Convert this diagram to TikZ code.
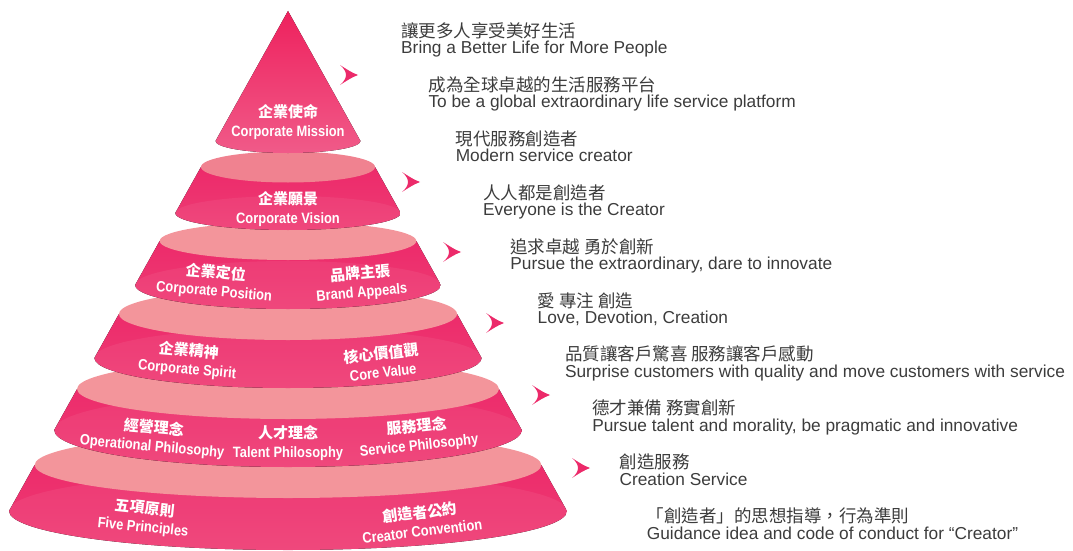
\documentclass[tikz,border=0pt]{standalone}
\usepackage{fontspec}
\setmainfont{Liberation Sans}
\newfontfamily\cjk{Noto Sans CJK TC}
\newfontfamily\narrow[FakeStretch=0.86]{Liberation Sans}
\definecolor{rose}{HTML}{EC2A6A}
\definecolor{roseTop}{HTML}{EC2568}
\definecolor{roseBot}{HTML}{EE3D74}
\definecolor{roseLid}{HTML}{F3959B}
\definecolor{roseLidTop}{HTML}{F08290}
\definecolor{ink}{HTML}{3C3C3C}
\newcommand\zh[1]{{\cjk\fontsize{15}{18.5}\selectfont #1}}
\tikzset{%
	slab/.style={top color=roseTop, bottom color=roseBot},
	lab/.style={text=white, align=center, inner sep=0pt, font=\narrow\bfseries\fontsize{15}{18.5}\selectfont},
	cn/.style={anchor=base west, inner sep=0pt, text=ink, font=\cjk\fontsize{17.5}{20}\selectfont},
	en/.style={anchor=base west, inner sep=0pt, text=ink, font=\fontsize{17.3}{20}\selectfont},
	chev/.pic={\fill[rose] (9,0) .. controls (2,-3) .. (-9,-10) .. controls (-1,-3) and (-1,3) .. (-9,10) .. controls (2,3) .. (9,0);}}

\begin{document}
\begin{tikzpicture}[x=1pt,y=-1pt]
	\useasboundingbox (0,0) rectangle (1073,551);

	% slices of the cone, lowest first
	\foreach \yt/\ryt/\yb/\ryb/\lidc in {465/33/511/39/roseLid, 389/30/430/37/roseLid, 314/26/358/30/roseLid, 241/19/285/24/roseLid, 167/15.5/213/17/roseLidTop}{
		\pgfmathsetmacro\rt{0.558*(\yt-11)}
		\pgfmathsetmacro\rb{0.558*(\yb-11)}
		\begin{scope}
			\clip ({288-\rt},\yt) -- ({288-\rb},\yb) arc[start angle=180, end angle=0, x radius=\rb, y radius=\ryb] -- ({288+\rt},\yt) -- cycle;
			\fill[slab] ({288-\rb},{\yt-\ryt}) rectangle ({288+\rb},{\yb+\ryb});
			\fill[white, opacity=.06] (288,\yb) ellipse[x radius=\rb, y radius=\ryb];
		\end{scope}
		\fill[\lidc] (288,\yt) ellipse[x radius=\rt, y radius=\ryt];
	}
	% tip
	\fill[top color=roseTop!90!red, bottom color=roseBot!85!white] (288,11) -- (215.5,141) arc[start angle=180, end angle=0, x radius=72.5, y radius=12] -- cycle;

	\node[lab] (CM) at (288,122) {\zh{企業使命}\\Corporate Mission};
	\node[lab] (CV) at (288,209) {\zh{企業願景}\\Corporate Vision};
	\node[lab, rotate=-5] (CP) at (215,282) {\zh{企業定位}\\Corporate Position};
	\node[lab, rotate=5] (BA) at (361,283) {\zh{品牌主張}\\Brand Appeals};
	\node[lab, rotate=-5] (CS) at (188,360) {\zh{企業精神}\\Corporate Spirit};
	\node[lab, rotate=6] (CVal) at (382,362) {\zh{核心價值觀}\\Core Value};
	\node[lab, rotate=-5] (OP) at (153,437) {\zh{經營理念}\\Operational Philosophy};
	\node[lab] (TP) at (288,443) {\zh{人才理念}\\Talent Philosophy};
	\node[lab, rotate=6] (SP) at (418,436) {\zh{服務理念}\\Service Philosophy};
	\node[lab, rotate=-6] (FP) at (144,518) {\zh{五項原則}\\Five Principles};
	\node[lab, rotate=7] (CC) at (421,521) {\zh{創造者公約}\\Creator Convention};

	\foreach \p in {(349,75),(411,182),(452,252),(495,323),(541,395),(581,468)}
		\pic at \p {chev};

	\foreach \i/\zhtxt/\entxt in {%
		0/讓更多人享受美好生活/Bring a Better Life for More People,
		1/成為全球卓越的生活服務平台/To be a global extraordinary life service platform,
		2/現代服務創造者/Modern service creator,
		3/人人都是創造者/Everyone is the Creator,
		4/追求卓越 勇於創新/{Pursue the extraordinary, dare to innovate},
		5/愛 專注 創造/{Love, Devotion, Creation},
		6/品質讓客戶驚喜 服務讓客戶感動/Surprise customers with quality and move customers with service,
		7/德才兼備 務實創新/{Pursue talent and morality, be pragmatic and innovative},
		8/創造服務/Creation Service,
		9/{「創造者」的思想指導，行為準則}/Guidance idea and code of conduct for “Creator”}{
		\node[cn] (c\i) at ({401+27.3*\i},{37.5+53.9*\i}) {\zhtxt};
		\node[en] (e\i) at ({401+27.3*\i},{54+53.9*\i}) {\entxt};
	}
\end{tikzpicture}
\end{document}
